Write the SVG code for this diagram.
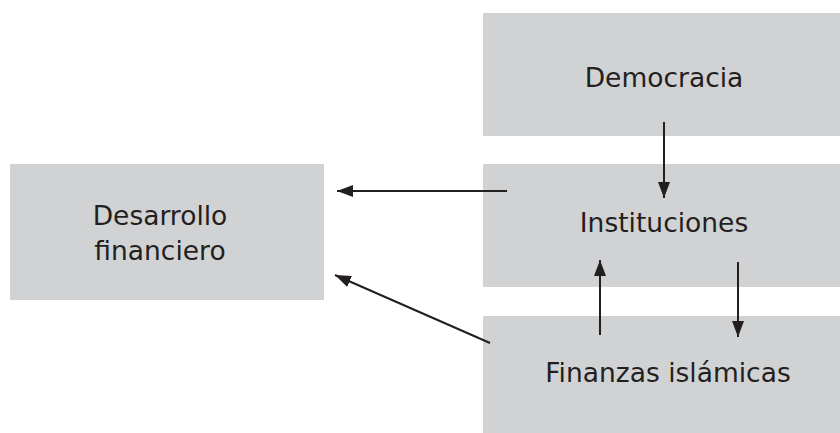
<svg xmlns="http://www.w3.org/2000/svg" width="840" height="433" viewBox="0 0 840 433">
<defs>
<style>
.box{fill:#d1d2d4}
.t{font-family:"DejaVu Sans",sans-serif;font-size:26.5px;fill:#231f20;text-anchor:middle}
.c{stroke:#231f20;stroke-width:2;fill:none}
</style>
<marker id="ah" viewBox="0 0 16 12" refX="16" refY="6" markerWidth="16" markerHeight="12" markerUnits="userSpaceOnUse" orient="auto"><path d="M0,0 L16,6 L0,12 z" fill="#231f20"/></marker>
</defs>
<rect width="840" height="433" fill="#fff"/>
<g id="democracia"><rect class="box" x="483" y="13" width="357" height="123"/><text class="t" x="664" y="87">Democracia</text></g>
<g id="instituciones"><rect class="box" x="483" y="164" width="357" height="123"/><text class="t" x="664" y="232">Instituciones</text></g>
<g id="finanzas"><rect class="box" x="483" y="316" width="357" height="117"/><text class="t" x="668" y="382">Finanzas islámicas</text></g>
<g id="desarrollo"><rect class="box" x="10" y="164" width="314" height="136"/><text class="t" x="160" y="225">Desarrollo</text><text class="t" x="160" y="260">financiero</text></g>
<g id="connectors">
<path class="c" d="M664,122 L664,198" marker-end="url(#ah)"/>
<path class="c" d="M600,335 L600,260" marker-end="url(#ah)"/>
<path class="c" d="M738,262 L738,337" marker-end="url(#ah)"/>
<path class="c" d="M507,191 L337,191" marker-end="url(#ah)"/>
<path class="c" d="M490,343 L335,275" marker-end="url(#ah)"/>
</g>
</svg>
